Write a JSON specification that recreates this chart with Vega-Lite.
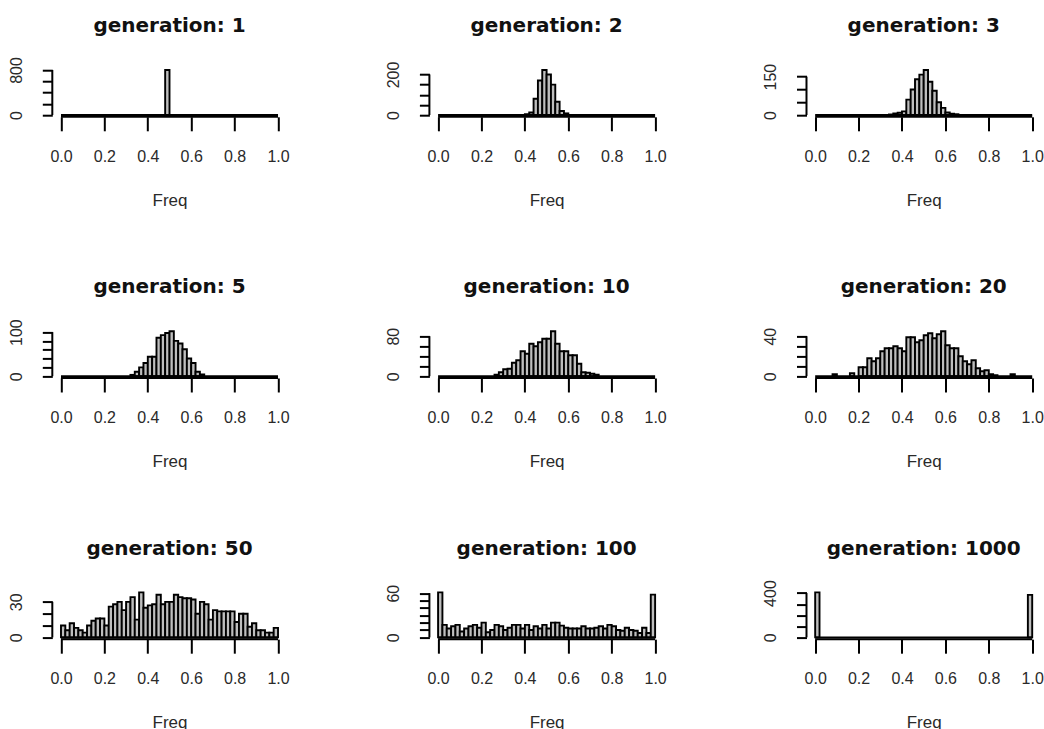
{
  "$schema": "https://vega.github.io/schema/vega-lite/v6.json",
  "usermeta": {"embedOptions": {"actions": false}},
  "background": "white",
  "padding": {"left": 8.3, "top": 15.2, "right": 0, "bottom": 0},
  "autosize": {"type": "pad"},
  "config": {
    "view": {"stroke": null},
    "axis": {"domain": false, "grid": false, "ticks": true, "tickColor": "black", "tickWidth": 2, "tickCount": 50, "labelFont": "Liberation Sans", "labelFontSize": 16, "labelColor": "#2a2a2a", "titleFont": "Liberation Sans", "titleFontSize": 17, "titleFontWeight": "normal", "titleColor": "#2a2a2a", "labelOverlap": false, "labelFlush": false, "zindex": 1},
    "axisX": {"tickSize": 14, "labelPadding": 17.4, "titlePadding": 28},
    "axisY": {"tickSize": 10, "labelAngle": 270, "labelAlign": "center", "labelBaseline": "bottom", "labelPadding": 18},
    "title": {"font": "DejaVu Sans", "fontSize": 20, "fontWeight": "bold", "color": "#111", "anchor": "middle", "baseline": "alphabetic"},
    "rect": {"fill": "#bebebe", "stroke": "black", "strokeWidth": 1.9},
    "rule": {"stroke": "black", "strokeWidth": 2}
  },
  "data": {"values": [
    {"generation": 1, "lo": 0.48, "hi": 0.50, "count": 800},
    {"generation": 2, "lo": 0.40, "hi": 0.42, "count": 4},
    {"generation": 2, "lo": 0.42, "hi": 0.44, "count": 12},
    {"generation": 2, "lo": 0.44, "hi": 0.46, "count": 80},
    {"generation": 2, "lo": 0.46, "hi": 0.48, "count": 170},
    {"generation": 2, "lo": 0.48, "hi": 0.50, "count": 222},
    {"generation": 2, "lo": 0.50, "hi": 0.52, "count": 200},
    {"generation": 2, "lo": 0.52, "hi": 0.54, "count": 150},
    {"generation": 2, "lo": 0.54, "hi": 0.56, "count": 65},
    {"generation": 2, "lo": 0.56, "hi": 0.58, "count": 20},
    {"generation": 2, "lo": 0.58, "hi": 0.60, "count": 8},
    {"generation": 3, "lo": 0.34, "hi": 0.36, "count": 2},
    {"generation": 3, "lo": 0.36, "hi": 0.38, "count": 6},
    {"generation": 3, "lo": 0.38, "hi": 0.40, "count": 9},
    {"generation": 3, "lo": 0.40, "hi": 0.42, "count": 14},
    {"generation": 3, "lo": 0.42, "hi": 0.44, "count": 60},
    {"generation": 3, "lo": 0.44, "hi": 0.46, "count": 100},
    {"generation": 3, "lo": 0.46, "hi": 0.48, "count": 140},
    {"generation": 3, "lo": 0.48, "hi": 0.50, "count": 158},
    {"generation": 3, "lo": 0.50, "hi": 0.52, "count": 176},
    {"generation": 3, "lo": 0.52, "hi": 0.54, "count": 130},
    {"generation": 3, "lo": 0.54, "hi": 0.56, "count": 95},
    {"generation": 3, "lo": 0.56, "hi": 0.58, "count": 50},
    {"generation": 3, "lo": 0.58, "hi": 0.60, "count": 28},
    {"generation": 3, "lo": 0.60, "hi": 0.62, "count": 10},
    {"generation": 3, "lo": 0.62, "hi": 0.64, "count": 5},
    {"generation": 3, "lo": 0.64, "hi": 0.66, "count": 3},
    {"generation": 5, "lo": 0.32, "hi": 0.34, "count": 3},
    {"generation": 5, "lo": 0.34, "hi": 0.36, "count": 10},
    {"generation": 5, "lo": 0.36, "hi": 0.38, "count": 20},
    {"generation": 5, "lo": 0.38, "hi": 0.40, "count": 30},
    {"generation": 5, "lo": 0.40, "hi": 0.42, "count": 44},
    {"generation": 5, "lo": 0.42, "hi": 0.44, "count": 44},
    {"generation": 5, "lo": 0.44, "hi": 0.46, "count": 87},
    {"generation": 5, "lo": 0.46, "hi": 0.48, "count": 93},
    {"generation": 5, "lo": 0.48, "hi": 0.50, "count": 98},
    {"generation": 5, "lo": 0.50, "hi": 0.52, "count": 102},
    {"generation": 5, "lo": 0.52, "hi": 0.54, "count": 80},
    {"generation": 5, "lo": 0.54, "hi": 0.56, "count": 74},
    {"generation": 5, "lo": 0.56, "hi": 0.58, "count": 61},
    {"generation": 5, "lo": 0.58, "hi": 0.60, "count": 40},
    {"generation": 5, "lo": 0.60, "hi": 0.62, "count": 30},
    {"generation": 5, "lo": 0.62, "hi": 0.64, "count": 10},
    {"generation": 5, "lo": 0.64, "hi": 0.66, "count": 4},
    {"generation": 10, "lo": 0.26, "hi": 0.28, "count": 3},
    {"generation": 10, "lo": 0.28, "hi": 0.30, "count": 8},
    {"generation": 10, "lo": 0.30, "hi": 0.32, "count": 14},
    {"generation": 10, "lo": 0.32, "hi": 0.34, "count": 15},
    {"generation": 10, "lo": 0.34, "hi": 0.36, "count": 27},
    {"generation": 10, "lo": 0.36, "hi": 0.38, "count": 32},
    {"generation": 10, "lo": 0.38, "hi": 0.40, "count": 50},
    {"generation": 10, "lo": 0.40, "hi": 0.42, "count": 45},
    {"generation": 10, "lo": 0.42, "hi": 0.44, "count": 65},
    {"generation": 10, "lo": 0.44, "hi": 0.46, "count": 60},
    {"generation": 10, "lo": 0.46, "hi": 0.48, "count": 68},
    {"generation": 10, "lo": 0.48, "hi": 0.50, "count": 75},
    {"generation": 10, "lo": 0.50, "hi": 0.52, "count": 75},
    {"generation": 10, "lo": 0.52, "hi": 0.54, "count": 90},
    {"generation": 10, "lo": 0.54, "hi": 0.56, "count": 65},
    {"generation": 10, "lo": 0.56, "hi": 0.58, "count": 50},
    {"generation": 10, "lo": 0.58, "hi": 0.60, "count": 50},
    {"generation": 10, "lo": 0.60, "hi": 0.62, "count": 42},
    {"generation": 10, "lo": 0.62, "hi": 0.64, "count": 42},
    {"generation": 10, "lo": 0.64, "hi": 0.66, "count": 25},
    {"generation": 10, "lo": 0.66, "hi": 0.68, "count": 8},
    {"generation": 10, "lo": 0.68, "hi": 0.70, "count": 7},
    {"generation": 10, "lo": 0.70, "hi": 0.72, "count": 5},
    {"generation": 10, "lo": 0.72, "hi": 0.74, "count": 3},
    {"generation": 20, "lo": 0.08, "hi": 0.10, "count": 2},
    {"generation": 20, "lo": 0.16, "hi": 0.18, "count": 3},
    {"generation": 20, "lo": 0.20, "hi": 0.22, "count": 9},
    {"generation": 20, "lo": 0.22, "hi": 0.24, "count": 9},
    {"generation": 20, "lo": 0.24, "hi": 0.26, "count": 18},
    {"generation": 20, "lo": 0.26, "hi": 0.28, "count": 15},
    {"generation": 20, "lo": 0.28, "hi": 0.30, "count": 18},
    {"generation": 20, "lo": 0.30, "hi": 0.32, "count": 25},
    {"generation": 20, "lo": 0.32, "hi": 0.34, "count": 28},
    {"generation": 20, "lo": 0.34, "hi": 0.36, "count": 28},
    {"generation": 20, "lo": 0.36, "hi": 0.38, "count": 30},
    {"generation": 20, "lo": 0.38, "hi": 0.40, "count": 28},
    {"generation": 20, "lo": 0.40, "hi": 0.42, "count": 25},
    {"generation": 20, "lo": 0.42, "hi": 0.44, "count": 39},
    {"generation": 20, "lo": 0.44, "hi": 0.46, "count": 39},
    {"generation": 20, "lo": 0.46, "hi": 0.48, "count": 34},
    {"generation": 20, "lo": 0.48, "hi": 0.50, "count": 36},
    {"generation": 20, "lo": 0.50, "hi": 0.52, "count": 41},
    {"generation": 20, "lo": 0.52, "hi": 0.54, "count": 43},
    {"generation": 20, "lo": 0.54, "hi": 0.56, "count": 38},
    {"generation": 20, "lo": 0.56, "hi": 0.58, "count": 42},
    {"generation": 20, "lo": 0.58, "hi": 0.60, "count": 45},
    {"generation": 20, "lo": 0.60, "hi": 0.62, "count": 31},
    {"generation": 20, "lo": 0.62, "hi": 0.64, "count": 28},
    {"generation": 20, "lo": 0.64, "hi": 0.66, "count": 28},
    {"generation": 20, "lo": 0.66, "hi": 0.68, "count": 20},
    {"generation": 20, "lo": 0.68, "hi": 0.70, "count": 15},
    {"generation": 20, "lo": 0.70, "hi": 0.72, "count": 12},
    {"generation": 20, "lo": 0.72, "hi": 0.74, "count": 16},
    {"generation": 20, "lo": 0.74, "hi": 0.76, "count": 8},
    {"generation": 20, "lo": 0.76, "hi": 0.78, "count": 5},
    {"generation": 20, "lo": 0.78, "hi": 0.80, "count": 6},
    {"generation": 20, "lo": 0.80, "hi": 0.82, "count": 2},
    {"generation": 20, "lo": 0.82, "hi": 0.84, "count": 1},
    {"generation": 20, "lo": 0.90, "hi": 0.92, "count": 2},
    {"generation": 50, "lo": 0.00, "hi": 0.02, "count": 10},
    {"generation": 50, "lo": 0.02, "hi": 0.04, "count": 6},
    {"generation": 50, "lo": 0.04, "hi": 0.06, "count": 12},
    {"generation": 50, "lo": 0.06, "hi": 0.08, "count": 8},
    {"generation": 50, "lo": 0.08, "hi": 0.10, "count": 6},
    {"generation": 50, "lo": 0.10, "hi": 0.12, "count": 4},
    {"generation": 50, "lo": 0.12, "hi": 0.14, "count": 10},
    {"generation": 50, "lo": 0.14, "hi": 0.16, "count": 14},
    {"generation": 50, "lo": 0.16, "hi": 0.18, "count": 16},
    {"generation": 50, "lo": 0.18, "hi": 0.20, "count": 16},
    {"generation": 50, "lo": 0.20, "hi": 0.22, "count": 10},
    {"generation": 50, "lo": 0.22, "hi": 0.24, "count": 26},
    {"generation": 50, "lo": 0.24, "hi": 0.26, "count": 28},
    {"generation": 50, "lo": 0.26, "hi": 0.28, "count": 30},
    {"generation": 50, "lo": 0.28, "hi": 0.30, "count": 23},
    {"generation": 50, "lo": 0.30, "hi": 0.32, "count": 30},
    {"generation": 50, "lo": 0.32, "hi": 0.34, "count": 34},
    {"generation": 50, "lo": 0.34, "hi": 0.36, "count": 15},
    {"generation": 50, "lo": 0.36, "hi": 0.38, "count": 38},
    {"generation": 50, "lo": 0.38, "hi": 0.40, "count": 25},
    {"generation": 50, "lo": 0.40, "hi": 0.42, "count": 27},
    {"generation": 50, "lo": 0.42, "hi": 0.44, "count": 28},
    {"generation": 50, "lo": 0.44, "hi": 0.46, "count": 36},
    {"generation": 50, "lo": 0.46, "hi": 0.48, "count": 28},
    {"generation": 50, "lo": 0.48, "hi": 0.50, "count": 30},
    {"generation": 50, "lo": 0.50, "hi": 0.52, "count": 30},
    {"generation": 50, "lo": 0.52, "hi": 0.54, "count": 36},
    {"generation": 50, "lo": 0.54, "hi": 0.56, "count": 34},
    {"generation": 50, "lo": 0.56, "hi": 0.58, "count": 33},
    {"generation": 50, "lo": 0.58, "hi": 0.60, "count": 33},
    {"generation": 50, "lo": 0.60, "hi": 0.62, "count": 32},
    {"generation": 50, "lo": 0.62, "hi": 0.64, "count": 20},
    {"generation": 50, "lo": 0.64, "hi": 0.66, "count": 30},
    {"generation": 50, "lo": 0.66, "hi": 0.68, "count": 28},
    {"generation": 50, "lo": 0.68, "hi": 0.70, "count": 15},
    {"generation": 50, "lo": 0.70, "hi": 0.72, "count": 23},
    {"generation": 50, "lo": 0.72, "hi": 0.74, "count": 22},
    {"generation": 50, "lo": 0.74, "hi": 0.76, "count": 22},
    {"generation": 50, "lo": 0.76, "hi": 0.78, "count": 22},
    {"generation": 50, "lo": 0.78, "hi": 0.80, "count": 22},
    {"generation": 50, "lo": 0.80, "hi": 0.82, "count": 13},
    {"generation": 50, "lo": 0.82, "hi": 0.84, "count": 20},
    {"generation": 50, "lo": 0.84, "hi": 0.86, "count": 20},
    {"generation": 50, "lo": 0.86, "hi": 0.88, "count": 9},
    {"generation": 50, "lo": 0.88, "hi": 0.90, "count": 12},
    {"generation": 50, "lo": 0.90, "hi": 0.92, "count": 6},
    {"generation": 50, "lo": 0.92, "hi": 0.94, "count": 6},
    {"generation": 50, "lo": 0.94, "hi": 0.96, "count": 4},
    {"generation": 50, "lo": 0.96, "hi": 0.98, "count": 4},
    {"generation": 50, "lo": 0.98, "hi": 1.00, "count": 8},
    {"generation": 100, "lo": 0.00, "hi": 0.02, "count": 61},
    {"generation": 100, "lo": 0.02, "hi": 0.04, "count": 17},
    {"generation": 100, "lo": 0.04, "hi": 0.06, "count": 12},
    {"generation": 100, "lo": 0.06, "hi": 0.08, "count": 15},
    {"generation": 100, "lo": 0.08, "hi": 0.10, "count": 17},
    {"generation": 100, "lo": 0.10, "hi": 0.12, "count": 8},
    {"generation": 100, "lo": 0.12, "hi": 0.14, "count": 12},
    {"generation": 100, "lo": 0.14, "hi": 0.16, "count": 15},
    {"generation": 100, "lo": 0.16, "hi": 0.18, "count": 17},
    {"generation": 100, "lo": 0.18, "hi": 0.20, "count": 13},
    {"generation": 100, "lo": 0.20, "hi": 0.22, "count": 20},
    {"generation": 100, "lo": 0.22, "hi": 0.24, "count": 7},
    {"generation": 100, "lo": 0.24, "hi": 0.26, "count": 10},
    {"generation": 100, "lo": 0.26, "hi": 0.28, "count": 17},
    {"generation": 100, "lo": 0.28, "hi": 0.30, "count": 15},
    {"generation": 100, "lo": 0.30, "hi": 0.32, "count": 10},
    {"generation": 100, "lo": 0.32, "hi": 0.34, "count": 13},
    {"generation": 100, "lo": 0.34, "hi": 0.36, "count": 17},
    {"generation": 100, "lo": 0.36, "hi": 0.38, "count": 17},
    {"generation": 100, "lo": 0.38, "hi": 0.40, "count": 12},
    {"generation": 100, "lo": 0.40, "hi": 0.42, "count": 17},
    {"generation": 100, "lo": 0.42, "hi": 0.44, "count": 10},
    {"generation": 100, "lo": 0.44, "hi": 0.46, "count": 15},
    {"generation": 100, "lo": 0.46, "hi": 0.48, "count": 12},
    {"generation": 100, "lo": 0.48, "hi": 0.50, "count": 17},
    {"generation": 100, "lo": 0.50, "hi": 0.52, "count": 12},
    {"generation": 100, "lo": 0.52, "hi": 0.54, "count": 20},
    {"generation": 100, "lo": 0.54, "hi": 0.56, "count": 20},
    {"generation": 100, "lo": 0.56, "hi": 0.58, "count": 16},
    {"generation": 100, "lo": 0.58, "hi": 0.60, "count": 13},
    {"generation": 100, "lo": 0.60, "hi": 0.62, "count": 12},
    {"generation": 100, "lo": 0.62, "hi": 0.64, "count": 12},
    {"generation": 100, "lo": 0.64, "hi": 0.66, "count": 12},
    {"generation": 100, "lo": 0.66, "hi": 0.68, "count": 15},
    {"generation": 100, "lo": 0.68, "hi": 0.70, "count": 12},
    {"generation": 100, "lo": 0.70, "hi": 0.72, "count": 12},
    {"generation": 100, "lo": 0.72, "hi": 0.74, "count": 13},
    {"generation": 100, "lo": 0.74, "hi": 0.76, "count": 15},
    {"generation": 100, "lo": 0.76, "hi": 0.78, "count": 12},
    {"generation": 100, "lo": 0.78, "hi": 0.80, "count": 17},
    {"generation": 100, "lo": 0.80, "hi": 0.82, "count": 15},
    {"generation": 100, "lo": 0.82, "hi": 0.84, "count": 10},
    {"generation": 100, "lo": 0.84, "hi": 0.86, "count": 9},
    {"generation": 100, "lo": 0.86, "hi": 0.88, "count": 13},
    {"generation": 100, "lo": 0.88, "hi": 0.90, "count": 10},
    {"generation": 100, "lo": 0.90, "hi": 0.92, "count": 9},
    {"generation": 100, "lo": 0.92, "hi": 0.94, "count": 6},
    {"generation": 100, "lo": 0.94, "hi": 0.96, "count": 13},
    {"generation": 100, "lo": 0.96, "hi": 0.98, "count": 6},
    {"generation": 100, "lo": 0.98, "hi": 1.00, "count": 58},
    {"generation": 1000, "lo": 0.00, "hi": 0.02, "count": 406},
    {"generation": 1000, "lo": 0.98, "hi": 1.00, "count": 384}
  ]},
  "columns": 3,
  "bounds": "flush",
  "spacing": {"row": 212.2, "column": 142.1},
  "concat": [
    {
      "title": {"text": "generation: 1", "offset": 20.5},
      "width": 234.4, "height": 48.6,
      "layer": [
        {"transform": [{"filter": "datum.generation == 1"}],
         "mark": "rect",
         "encoding": {
           "x": {"field": "lo", "type": "quantitative", "scale": {"domain": [-0.04, 1.04], "nice": false, "zero": false}, "axis": {"values": [0, 0.2, 0.4, 0.6, 0.8, 1], "format": ".1f", "title": "Freq", "tickCount": 50, "ticks": true, "tickSize": 14, "tickWidth": 2, "tickColor": "black", "tickOpacity": 1}},
           "x2": {"field": "hi"},
           "y": {"field": "count", "type": "quantitative", "scale": {"domain": [-32, 832], "nice": false, "zero": false}, "axis": {"values": [0, 200, 400, 600, 800], "labelExpr": "datum.value == 0 || datum.value == 800 ? datum.label : ''", "title": null, "tickCount": 50}},
           "y2": {"datum": 0}}},
        {"data": {"values": [{}]}, "mark": "rule", "encoding": {"x": {"datum": 0}, "x2": {"datum": 1}, "y": {"datum": 0}}},
        {"data": {"values": [{}]}, "mark": "rule", "encoding": {"x": {"datum": 0}, "x2": {"datum": 1}, "y": {"datum": -32}}},
        {"data": {"values": [{}]}, "mark": "rule", "encoding": {"x": {"datum": -0.04}, "y": {"datum": 0}, "y2": {"datum": 800}}}
      ]
    },
    {
      "title": {"text": "generation: 2", "offset": 25},
      "width": 234.4, "height": 48.6,
      "layer": [
        {"transform": [{"filter": "datum.generation == 2"}],
         "mark": "rect",
         "encoding": {
           "x": {"field": "lo", "type": "quantitative", "scale": {"domain": [-0.04, 1.04], "nice": false, "zero": false}, "axis": {"values": [0, 0.2, 0.4, 0.6, 0.8, 1], "format": ".1f", "title": "Freq", "tickCount": 50, "ticks": true, "tickSize": 14, "tickWidth": 2, "tickColor": "black", "tickOpacity": 1}},
           "x2": {"field": "hi"},
           "y": {"field": "count", "type": "quantitative", "scale": {"domain": [-8.88, 230.88], "nice": false, "zero": false}, "axis": {"values": [0, 50, 100, 150, 200], "labelExpr": "datum.value == 0 || datum.value == 200 ? datum.label : ''", "title": null, "tickCount": 50}},
           "y2": {"datum": 0}}},
        {"data": {"values": [{}]}, "mark": "rule", "encoding": {"x": {"datum": 0}, "x2": {"datum": 1}, "y": {"datum": 0}}},
        {"data": {"values": [{}]}, "mark": "rule", "encoding": {"x": {"datum": 0}, "x2": {"datum": 1}, "y": {"datum": -8.88}}},
        {"data": {"values": [{}]}, "mark": "rule", "encoding": {"x": {"datum": -0.04}, "y": {"datum": 0}, "y2": {"datum": 200}}}
      ]
    },
    {
      "title": {"text": "generation: 3", "offset": 27.2},
      "width": 234.4, "height": 48.6,
      "layer": [
        {"transform": [{"filter": "datum.generation == 3"}],
         "mark": "rect",
         "encoding": {
           "x": {"field": "lo", "type": "quantitative", "scale": {"domain": [-0.04, 1.04], "nice": false, "zero": false}, "axis": {"values": [0, 0.2, 0.4, 0.6, 0.8, 1], "format": ".1f", "title": "Freq", "tickCount": 50, "ticks": true, "tickSize": 14, "tickWidth": 2, "tickColor": "black", "tickOpacity": 1}},
           "x2": {"field": "hi"},
           "y": {"field": "count", "type": "quantitative", "scale": {"domain": [-7.04, 183.04], "nice": false, "zero": false}, "axis": {"values": [0, 50, 100, 150], "labelExpr": "datum.value == 0 || datum.value == 150 ? datum.label : ''", "title": null, "tickCount": 50}},
           "y2": {"datum": 0}}},
        {"data": {"values": [{}]}, "mark": "rule", "encoding": {"x": {"datum": 0}, "x2": {"datum": 1}, "y": {"datum": 0}}},
        {"data": {"values": [{}]}, "mark": "rule", "encoding": {"x": {"datum": 0}, "x2": {"datum": 1}, "y": {"datum": -7.04}}},
        {"data": {"values": [{}]}, "mark": "rule", "encoding": {"x": {"datum": -0.04}, "y": {"datum": 0}, "y2": {"datum": 150}}}
      ]
    },
    {
      "title": {"text": "generation: 5", "offset": 21.4},
      "width": 234.4, "height": 48.6,
      "layer": [
        {"transform": [{"filter": "datum.generation == 5"}],
         "mark": "rect",
         "encoding": {
           "x": {"field": "lo", "type": "quantitative", "scale": {"domain": [-0.04, 1.04], "nice": false, "zero": false}, "axis": {"values": [0, 0.2, 0.4, 0.6, 0.8, 1], "format": ".1f", "title": "Freq", "tickCount": 50, "ticks": true, "tickSize": 14, "tickWidth": 2, "tickColor": "black", "tickOpacity": 1}},
           "x2": {"field": "hi"},
           "y": {"field": "count", "type": "quantitative", "scale": {"domain": [-4.08, 106.08], "nice": false, "zero": false}, "axis": {"values": [0, 20, 40, 60, 80, 100], "labelExpr": "datum.value == 0 || datum.value == 100 ? datum.label : ''", "title": null, "tickCount": 50}},
           "y2": {"datum": 0}}},
        {"data": {"values": [{}]}, "mark": "rule", "encoding": {"x": {"datum": 0}, "x2": {"datum": 1}, "y": {"datum": 0}}},
        {"data": {"values": [{}]}, "mark": "rule", "encoding": {"x": {"datum": 0}, "x2": {"datum": 1}, "y": {"datum": -4.08}}},
        {"data": {"values": [{}]}, "mark": "rule", "encoding": {"x": {"datum": -0.04}, "y": {"datum": 0}, "y2": {"datum": 100}}}
      ]
    },
    {
      "title": {"text": "generation: 10", "offset": 29.9},
      "width": 234.4, "height": 48.6,
      "layer": [
        {"transform": [{"filter": "datum.generation == 10"}],
         "mark": "rect",
         "encoding": {
           "x": {"field": "lo", "type": "quantitative", "scale": {"domain": [-0.04, 1.04], "nice": false, "zero": false}, "axis": {"values": [0, 0.2, 0.4, 0.6, 0.8, 1], "format": ".1f", "title": "Freq", "tickCount": 50, "ticks": true, "tickSize": 14, "tickWidth": 2, "tickColor": "black", "tickOpacity": 1}},
           "x2": {"field": "hi"},
           "y": {"field": "count", "type": "quantitative", "scale": {"domain": [-3.6, 93.6], "nice": false, "zero": false}, "axis": {"values": [0, 20, 40, 60, 80], "labelExpr": "datum.value == 0 || datum.value == 80 ? datum.label : ''", "title": null, "tickCount": 50}},
           "y2": {"datum": 0}}},
        {"data": {"values": [{}]}, "mark": "rule", "encoding": {"x": {"datum": 0}, "x2": {"datum": 1}, "y": {"datum": 0}}},
        {"data": {"values": [{}]}, "mark": "rule", "encoding": {"x": {"datum": 0}, "x2": {"datum": 1}, "y": {"datum": -3.6}}},
        {"data": {"values": [{}]}, "mark": "rule", "encoding": {"x": {"datum": -0.04}, "y": {"datum": 0}, "y2": {"datum": 80}}}
      ]
    },
    {
      "title": {"text": "generation: 20", "offset": 29.9},
      "width": 234.4, "height": 48.6,
      "layer": [
        {"transform": [{"filter": "datum.generation == 20"}],
         "mark": "rect",
         "encoding": {
           "x": {"field": "lo", "type": "quantitative", "scale": {"domain": [-0.04, 1.04], "nice": false, "zero": false}, "axis": {"values": [0, 0.2, 0.4, 0.6, 0.8, 1], "format": ".1f", "title": "Freq", "tickCount": 50, "ticks": true, "tickSize": 14, "tickWidth": 2, "tickColor": "black", "tickOpacity": 1}},
           "x2": {"field": "hi"},
           "y": {"field": "count", "type": "quantitative", "scale": {"domain": [-1.8, 46.8], "nice": false, "zero": false}, "axis": {"values": [0, 10, 20, 30, 40], "labelExpr": "datum.value == 0 || datum.value == 40 ? datum.label : ''", "title": null, "tickCount": 50}},
           "y2": {"datum": 0}}},
        {"data": {"values": [{}]}, "mark": "rule", "encoding": {"x": {"datum": 0}, "x2": {"datum": 1}, "y": {"datum": 0}}},
        {"data": {"values": [{}]}, "mark": "rule", "encoding": {"x": {"datum": 0}, "x2": {"datum": 1}, "y": {"datum": -1.8}}},
        {"data": {"values": [{}]}, "mark": "rule", "encoding": {"x": {"datum": -0.04}, "y": {"datum": 0}, "y2": {"datum": 40}}}
      ]
    },
    {
      "title": {"text": "generation: 50", "offset": 32},
      "width": 234.4, "height": 48.6,
      "layer": [
        {"transform": [{"filter": "datum.generation == 50"}],
         "mark": "rect",
         "encoding": {
           "x": {"field": "lo", "type": "quantitative", "scale": {"domain": [-0.04, 1.04], "nice": false, "zero": false}, "axis": {"values": [0, 0.2, 0.4, 0.6, 0.8, 1], "format": ".1f", "title": "Freq", "tickCount": 50, "ticks": true, "tickSize": 14, "tickWidth": 2, "tickColor": "black", "tickOpacity": 1}},
           "x2": {"field": "hi"},
           "y": {"field": "count", "type": "quantitative", "scale": {"domain": [-1.52, 39.52], "nice": false, "zero": false}, "axis": {"values": [0, 10, 20, 30], "labelExpr": "datum.value == 0 || datum.value == 30 ? datum.label : ''", "title": null, "tickCount": 50}},
           "y2": {"datum": 0}}},
        {"data": {"values": [{}]}, "mark": "rule", "encoding": {"x": {"datum": 0}, "x2": {"datum": 1}, "y": {"datum": 0}}},
        {"data": {"values": [{}]}, "mark": "rule", "encoding": {"x": {"datum": 0}, "x2": {"datum": 1}, "y": {"datum": -1.52}}},
        {"data": {"values": [{}]}, "mark": "rule", "encoding": {"x": {"datum": -0.04}, "y": {"datum": 0}, "y2": {"datum": 30}}}
      ]
    },
    {
      "title": {"text": "generation: 100", "offset": 25.6},
      "width": 234.4, "height": 48.6,
      "layer": [
        {"transform": [{"filter": "datum.generation == 100"}],
         "mark": "rect",
         "encoding": {
           "x": {"field": "lo", "type": "quantitative", "scale": {"domain": [-0.04, 1.04], "nice": false, "zero": false}, "axis": {"values": [0, 0.2, 0.4, 0.6, 0.8, 1], "format": ".1f", "title": "Freq", "tickCount": 50, "ticks": true, "tickSize": 14, "tickWidth": 2, "tickColor": "black", "tickOpacity": 1}},
           "x2": {"field": "hi"},
           "y": {"field": "count", "type": "quantitative", "scale": {"domain": [-2.44, 63.44], "nice": false, "zero": false}, "axis": {"values": [0, 10, 20, 30, 40, 50, 60], "labelExpr": "datum.value == 0 || datum.value == 60 ? datum.label : ''", "title": null, "tickCount": 50}},
           "y2": {"datum": 0}}},
        {"data": {"values": [{}]}, "mark": "rule", "encoding": {"x": {"datum": 0}, "x2": {"datum": 1}, "y": {"datum": 0}}},
        {"data": {"values": [{}]}, "mark": "rule", "encoding": {"x": {"datum": 0}, "x2": {"datum": 1}, "y": {"datum": -2.44}}},
        {"data": {"values": [{}]}, "mark": "rule", "encoding": {"x": {"datum": -0.04}, "y": {"datum": 0}, "y2": {"datum": 60}}}
      ]
    },
    {
      "title": {"text": "generation: 1000", "offset": 21.1},
      "width": 234.4, "height": 48.6,
      "layer": [
        {"transform": [{"filter": "datum.generation == 1000"}],
         "mark": "rect",
         "encoding": {
           "x": {"field": "lo", "type": "quantitative", "scale": {"domain": [-0.04, 1.04], "nice": false, "zero": false}, "axis": {"values": [0, 0.2, 0.4, 0.6, 0.8, 1], "format": ".1f", "title": "Freq", "tickCount": 50, "ticks": true, "tickSize": 14, "tickWidth": 2, "tickColor": "black", "tickOpacity": 1}},
           "x2": {"field": "hi"},
           "y": {"field": "count", "type": "quantitative", "scale": {"domain": [-16.24, 422.24], "nice": false, "zero": false}, "axis": {"values": [0, 100, 200, 300, 400], "labelExpr": "datum.value == 0 || datum.value == 400 ? datum.label : ''", "title": null, "tickCount": 50}},
           "y2": {"datum": 0}}},
        {"data": {"values": [{}]}, "mark": "rule", "encoding": {"x": {"datum": 0}, "x2": {"datum": 1}, "y": {"datum": 0}}},
        {"data": {"values": [{}]}, "mark": "rule", "encoding": {"x": {"datum": 0}, "x2": {"datum": 1}, "y": {"datum": -16.24}}},
        {"data": {"values": [{}]}, "mark": "rule", "encoding": {"x": {"datum": -0.04}, "y": {"datum": 0}, "y2": {"datum": 400}}}
      ]
    }
  ]
}
